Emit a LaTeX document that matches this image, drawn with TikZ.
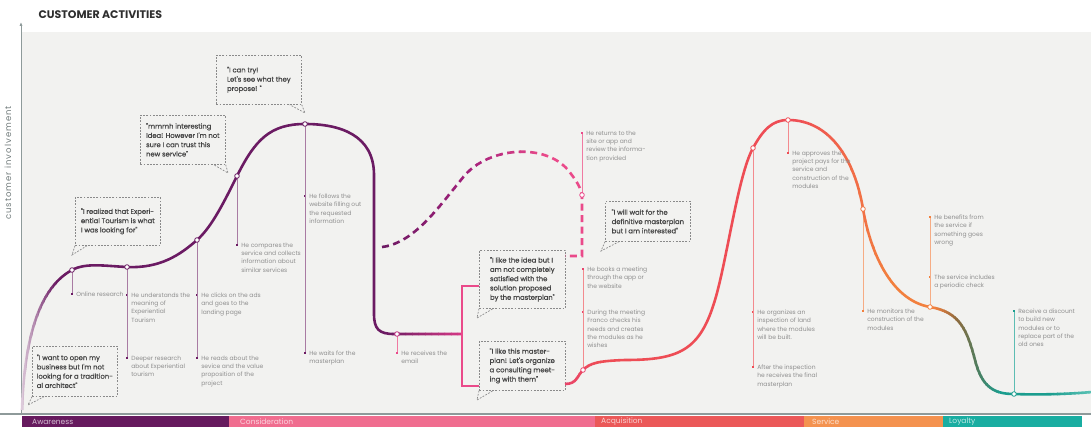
\documentclass[tikz,border=0pt]{standalone}
\usepackage{fontspec}
\setmainfont{Poppins}
\newfontfamily\axisfont[LetterSpace=12]{Poppins}
\newfontfamily\quotefont[FakeBold=0.6]{Poppins}
\usetikzlibrary{positioning,arrows.meta}

\definecolor{panelC}{HTML}{F2F2F0}
\definecolor{axisC}{HTML}{8E9A9A}
\definecolor{titleC}{HTML}{2E2E2E}
\definecolor{lblC}{HTML}{8E8E8E}
\definecolor{quoteC}{HTML}{8A8A8A}
\definecolor{quoteTxt}{HTML}{454545}
% curve colours
\definecolor{purpleL}{HTML}{E2D3E0}
\definecolor{purpleC}{HTML}{6B1B63}
\definecolor{magC}{HTML}{A3207B}
\definecolor{pinkD}{HTML}{D83A86}
\definecolor{pinkC}{HTML}{EA4A8A}
\definecolor{redP}{HTML}{E9446C}
\definecolor{redC}{HTML}{EE4D55}
\definecolor{orangeC}{HTML}{F2803E}
\definecolor{brownC}{HTML}{8E6B3E}
\definecolor{greenC}{HTML}{4E7E60}
\definecolor{tealC}{HTML}{1B9D8E}
\definecolor{tealL}{HTML}{5CC2B6}
% stems
\definecolor{stemPurple}{HTML}{A97BA3}
\definecolor{stemPink}{HTML}{F07AA2}
\definecolor{stemRed}{HTML}{F38A8E}
\definecolor{stemOrange}{HTML}{F6AC84}
\definecolor{stemTeal}{HTML}{5DBDB3}
% phases
\definecolor{awareC}{HTML}{661A5E}
\definecolor{considC}{HTML}{F06D8F}
\definecolor{acquiC}{HTML}{EB5858}
\definecolor{serviceC}{HTML}{F4924F}
\definecolor{loyalC}{HTML}{19ADA1}

% stroke a path in vertical strips, colour going from #3 to #4 between x=#1 and x=#2
\newcommand{\gradseg}[6]{%
  \foreach \k in {0,...,11}{%
    \pgfmathtruncatemacro{\pc}{100-100*(\k+0.5)/12}%
    \begin{scope}
      \clip ({#1+(#2-#1)*\k/12},0) rectangle ({#1+(#2-#1)*(\k+1)/12+0.6},430);
      \draw[#5, draw=#3!\pc!#4] #6;
    \end{scope}}}
\newcommand{\solidseg}[5]{%
  \begin{scope}
    \clip (#1,0) rectangle (#2,430);
    \draw[#4, draw=#3] #5;
  \end{scope}}

% the journey curves
\newcommand{\jpathA}{(22,410) .. controls (24,350) and (35,290) .. (p1)
  .. controls (86,262.5) and (105,266) .. (p2)
  .. controls (160,268.5) and (180,255) .. (p3)
  .. controls (212,227) and (225,200) .. (p4)
  .. controls (255,140) and (270,124) .. (p5)
  .. controls (340,124) and (374,135) .. (374,175) -- (374,314)
  .. controls (374,329) and (379,334) .. (394,334) -- (p6) -- (jA)}
\newcommand{\jpathB}{(jB) .. controls (577,384) and (577,376) .. (p8)
  .. controls (590,363) and (598,361) .. (625,360)
  .. controls (680,360) and (700,350) .. (715,300)
  .. controls (727,260) and (738,175) .. (p9)
  .. controls (763,130) and (772,120) .. (p10)
  .. controls (830,120) and (855,160) .. (p11)
  .. controls (870,250) and (890,300) .. (p12)
  .. controls (960,312) and (967,330) .. (975,360)
  .. controls (982,388) and (995,394) .. (p13)
  .. controls (1040,395) and (1070,394) .. (1092,392)}
\newcommand{\jpathD}{(382,247) .. controls (415,243) and (440,205) .. (465,175)
  .. controls (490,147) and (545,143) .. (568,170)
  .. controls (576,180) and (581,188) .. (p7) -- (582,256) -- (jD)}

\begin{document}
\begin{tikzpicture}[x=1pt, y=-1pt,
  jcurve/.style={line width=2.6pt},
  dashcurve/.style={line width=2.6pt, dash pattern=on 7pt off 4.5pt},
  ringmk/.style={circle, draw=#1, fill=white, line width=0.8pt, inner sep=0pt, minimum size=4.6pt},
  stem/.style={draw=#1, line width=0.8pt},
  bullet/.style={fill=#1, inner sep=0pt, minimum size=1.8pt},
  lbl/.style={font=\fontsize{6}{8.3}\selectfont, text=lblC, align=left, inner sep=0pt, anchor=north west, yshift=2.3pt},
  qbox/.style={draw=quoteC, dash pattern=on 1.8pt off 1.4pt, line width=0.7pt, font=\quotefont\fontsize{6.8}{9.3}\selectfont, text=quoteTxt, align=left, anchor=north west, minimum width=85pt, inner sep=0pt},
  qtail/.style={draw=quoteC, dash pattern=on 1.8pt off 1.4pt, line width=0.7pt},
  phaselbl/.style={font=\fontsize{7.5}{9}\selectfont, text=white!72!#1, anchor=west, inner sep=0pt},
  node distance=3pt]
    \useasboundingbox (0,0) rectangle (1091,427);

    % Panel and axes
    \fill[panelC] (22,32) rectangle (1091,414);
    \coordinate (origin) at (21,414);
    \coordinate (ytop) at (21,22);
    \coordinate (xleft) at (0,414);
    \coordinate (xright) at (1091,414);
    \draw[axisC, line width=1.2pt] (xleft) -- (xright);
    \draw[axisC, line width=0.9pt, -{Latex[length=4pt,width=3.2pt]}] (origin) -- (ytop);
    \node[font=\bfseries\fontsize{11}{13}\selectfont, text=titleC, anchor=west] (title) at (35,15) {CUSTOMER ACTIVITIES};
    \node[rotate=90, font=\axisfont\fontsize{8.5}{10}\selectfont, text=axisC!80!black] (ylab) at (8,163) {customer involvement};

    % Phases
    \fill[awareC] (22,416) rectangle (229,427);
    \fill[considC] (229,416) rectangle (595,427);
    \fill[acquiC] (595,416) rectangle (804,427);
    \fill[serviceC] (804,416) rectangle (943,427);
    \fill[loyalC] (943,416) rectangle (1082,427);
    \node[phaselbl=awareC] (aware) at (32,422) {Awareness};
    \node[phaselbl=considC] (consid) at (240,422) {Consideration};
    \node[phaselbl=acquiC] (acqui) at (601,422) {Acquisition};
    \node[phaselbl=serviceC] (service) at (812,422) {Service};
    \node[phaselbl=loyalC] (loyal) at (949,422) {Loyalty};

    % Points on the curve
    \coordinate (p1) at (72,270);
    \coordinate (p2) at (127,267);
    \coordinate (p3) at (197,240);
    \coordinate (p4) at (237,176);
    \coordinate (p5) at (305,124);
    \coordinate (p6) at (397,334);
    \coordinate (p7) at (582,195);
    \coordinate (p8) at (583,370);
    \coordinate (p9) at (753,148);
    \coordinate (p10) at (788,120);
    \coordinate (p11) at (863,209);
    \coordinate (p12) at (930,307);
    \coordinate (p13) at (1014,394);
    \coordinate (jA) at (462,334);
    \coordinate (jT) at (462,286);
    \coordinate (jU) at (462,386);
    \coordinate (jB) at (565,384);
    \coordinate (jD) at (565,256);

    % Quotes
    \node[qbox, minimum height=50pt] (q1) at (32,346) {"I want to open my\\business but I'm not\\looking for a tradition-\\al architect"};
    \node[qbox, minimum height=48pt] (q2) at (75,197) {"I realized that Experi-\\ential Tourism is what\\I was looking for"};
    \node[qbox, minimum height=49pt] (q3) at (140,115) {"mmmh interesting\\Idea! However I'm not\\sure I can trust this\\new service"};
    \node[qbox, minimum height=49pt] (q4) at (216,55) {"I can try!\\Let's see what they\\propose! "};
    \node[qbox, minimum height=58pt, minimum width=86pt] (q5) at (479,250) {"I like the idea but I\\am not completely\\satisfied with the\\solution proposed\\by the masterplan"};
    \node[qbox, minimum height=49pt, minimum width=86pt] (q6) at (479,341) {"I like this master-\\plan! Let's organize\\a consulting meet-\\ing with them"};
    \node[qbox, minimum height=40pt] (q7) at (605,201) {"I will wait for the\\definitive masterplan\\but I am interested"};
    \coordinate (q1tip) at (28,405);
    \coordinate (q2tip) at (72,255);
    \coordinate (q3tip) at (228,173);
    \coordinate (q4tip) at (305,113);
    \coordinate (q5tip) at (477,318);
    \coordinate (q6tip) at (477,400);
    \coordinate (q7tip) at (601,251);
    \draw[qtail] (q1.south west) -- (q1tip) -- ([xshift=12pt]q1.south west);
    \draw[qtail] (q2.south west) -- (q2tip) -- ([xshift=12pt]q2.south west);
    \draw[qtail] (q3.south east) -- (q3tip) -- ([xshift=-12pt]q3.south east);
    \draw[qtail] (q4.south east) -- (q4tip) -- ([xshift=-12pt]q4.south east);
    \draw[qtail] (q5.south west) -- (q5tip) -- ([xshift=14pt]q5.south west);
    \draw[qtail] (q6.south west) -- (q6tip) -- ([xshift=14pt]q6.south west);
    \draw[qtail] (q7.south west) -- (q7tip) -- ([xshift=14pt]q7.south west);

    % Bullets and stems
    \node[bullet=purpleC] (b1) at (72,294) {};
    \node[bullet=purpleC] (b2a) at (127,295) {};
    \node[bullet=purpleC] (b2b) at (127,358) {};
    \node[bullet=purpleC] (b3a) at (197,295) {};
    \node[bullet=purpleC] (b3b) at (197,358) {};
    \node[bullet=purpleC] (b4) at (237,245) {};
    \node[bullet=purpleC] (b5a) at (305,196) {};
    \node[bullet=purpleC] (b5b) at (305,353) {};
    \node[bullet=pinkC] (b6) at (397,353) {};
    \node[bullet=pinkC] (b7) at (582,133) {};
    \node[bullet=redP] (b8a) at (583,269) {};
    \node[bullet=redP] (b8b) at (583,312) {};
    \node[bullet=redC] (b9a) at (753,312) {};
    \node[bullet=redC] (b9b) at (753,367) {};
    \node[bullet=redC] (b10) at (788,153) {};
    \node[bullet=orangeC] (b11) at (863,311) {};
    \node[bullet=orangeC] (b12a) at (930,217) {};
    \node[bullet=orangeC] (b12b) at (930,277) {};
    \node[bullet=tealC] (b13) at (1014,311) {};
    \draw[stem=stemPurple] (p1) -- (b1);
    \draw[stem=stemPurple] (p2) -- (b2b);
    \draw[stem=stemPurple] (p3) -- (b3b);
    \draw[stem=stemPurple] (p4) -- (b4);
    \draw[stem=stemPurple] (p5) -- (b5b);
    \draw[stem=stemPink] (p6) -- (b6);
    \draw[stem=stemPink] (p7) -- (b7);
    \draw[stem=stemRed] (p8) -- (b8a);
    \draw[stem=stemRed] (p9) -- (b9b);
    \draw[stem=stemRed] (p10) -- (b10);
    \draw[stem=stemOrange] (p11) -- (b11);
    \draw[stem=stemOrange] (p12) -- (b12a);
    \draw[stem=stemTeal] (p13) -- (b13);

    % Curve
    \gradseg{20}{56}{purpleL}{purpleC}{jcurve}{\jpathA}
    \solidseg{56}{386}{purpleC}{jcurve}{\jpathA}
    \gradseg{386}{464}{purpleC}{pinkD}{jcurve}{\jpathA}
    \gradseg{380}{470}{purpleC}{magC}{dashcurve}{\jpathD}
    \gradseg{470}{545}{magC}{pinkC}{dashcurve}{\jpathD}
    \solidseg{545}{590}{pinkC}{dashcurve}{\jpathD}
    \draw[jcurve, draw=pinkC] (q5.west |- jT) -- (jT) -- (jU) -- (q6.west |- jU);
    \gradseg{563}{600}{redP}{redC}{jcurve}{\jpathB}
    \solidseg{600}{795}{redC}{jcurve}{\jpathB}
    \gradseg{795}{890}{redC}{orangeC}{jcurve}{\jpathB}
    \solidseg{890}{935}{orangeC}{jcurve}{\jpathB}
    \gradseg{935}{957}{orangeC}{brownC}{jcurve}{\jpathB}
    \gradseg{957}{978}{brownC}{greenC}{jcurve}{\jpathB}
    \gradseg{978}{1000}{greenC}{tealC}{jcurve}{\jpathB}
    \solidseg{1000}{1050}{tealC}{jcurve}{\jpathB}
    \gradseg{1050}{1092}{tealC}{tealL}{jcurve}{\jpathB}

    % Markers
    \node[ringmk=purpleC] (r1) at (p1) {};
    \node[ringmk=purpleC] (r2) at (p2) {};
    \node[ringmk=purpleC] (r3) at (p3) {};
    \node[ringmk=purpleC] (r4) at (p4) {};
    \node[ringmk=purpleC] (r5) at (p5) {};
    \node[ringmk=magC!60!pinkC] (r6) at (p6) {};
    \node[ringmk=pinkC] (r7) at (p7) {};
    \node[ringmk=redP] (r8) at (p8) {};
    \node[ringmk=redC] (r9) at (p9) {};
    \node[ringmk=redC] (r10) at (p10) {};
    \node[ringmk=orangeC!80!redC] (r11) at (p11) {};
    \node[ringmk=orangeC] (r12) at (p12) {};
    \node[ringmk=tealC] (r13) at (p13) {};

    % Labels
    \node[right=3pt of b1, lbl] (t1) {Online research};
    \node[right=3pt of b2a, lbl] (t2a) {He understands the\\meaning of\\Experiential\\Tourism};
    \node[right=3pt of b2b, lbl] (t2b) {Deeper research\\about Experiential\\tourism};
    \node[right=3pt of b3a, lbl] (t3a) {He clicks on the ads\\and goes to the\\landing page};
    \node[right=3pt of b3b, lbl] (t3b) {He reads about the\\sevice and the value\\proposition of the\\project};
    \node[right=3pt of b4, lbl] (t4) {He compares the\\service and collects\\information about\\similar services};
    \node[right=3pt of b5a, lbl] (t5a) {He follows the\\website filling out\\the requested\\information};
    \node[right=3pt of b5b, lbl] (t5b) {He waits for the\\masterplan};
    \node[right=3pt of b6, lbl] (t6) {He receives the\\email};
    \node[right=3pt of b7, lbl] (t7) {He returns to the\\site or app and\\review the informa-\\tion provided};
    \node[right=3pt of b8a, lbl] (t8a) {He books a meeting\\through the app or\\the website};
    \node[right=3pt of b8b, lbl] (t8b) {During the meeting\\Franco checks his\\needs and creates\\the modules as he\\wishes};
    \node[right=3pt of b9a, lbl] (t9a) {He organizes an\\inspection of land\\where the modules\\will be built.};
    \node[right=3pt of b9b, lbl] (t9b) {After the inspection\\he receives the final\\masterplan};
    \node[right=3pt of b10, lbl] (t10) {He approves the\\project pays for the\\service and\\construction of the\\modules};
    \node[right=3pt of b11, lbl] (t11) {He monitors the\\construction of the\\modules};
    \node[right=3pt of b12a, lbl] (t12a) {He benefits from\\the service if\\something goes\\wrong};
    \node[right=3pt of b12b, lbl] (t12b) {The service includes\\a periodic check};
    \node[right=3pt of b13, lbl] (t13) {Receive a discount\\to build new\\modules or to\\replace part of the\\old ones};
\end{tikzpicture}
\end{document}
